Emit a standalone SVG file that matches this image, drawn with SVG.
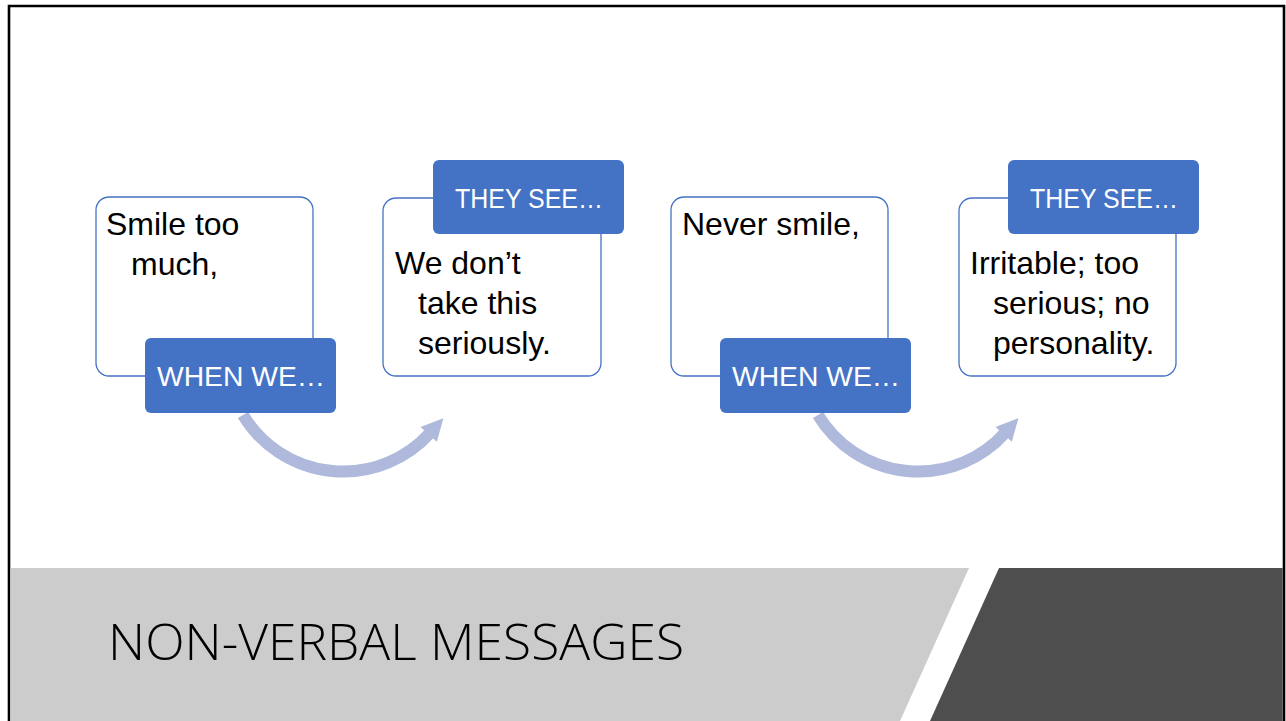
<svg xmlns="http://www.w3.org/2000/svg" width="1286" height="721" viewBox="0 0 1286 721">
<style>
.card{fill:#FFFFFF;stroke:#4472C4;stroke-width:1.3}
.tab{fill:#4472C4}
.tabt{font-family:"Liberation Sans",Arial,sans-serif;font-size:28px;fill:#FFFFFF;text-anchor:middle}
.body{font-family:"Liberation Sans",Arial,sans-serif;font-size:32px;fill:#000000}
.arc{fill:none;stroke:#AEB9DC;stroke-width:12}
.title{font-family:"Open Sans","Liberation Sans",sans-serif;font-weight:300;font-size:50px;fill:#000000}
</style>
<defs>
<marker id="ah" markerUnits="userSpaceOnUse" markerWidth="30" markerHeight="30" refX="2" refY="11" orient="auto" viewBox="0 0 30 22">
<path d="M0 0 L22 11 L0 22 Z" fill="#AEB9DC"/>
</marker>
</defs>
<rect x="0" y="0" width="1286" height="721" fill="#FFFFFF"/>
<g id="background">
<path d="M9 722 V6 H1284 V722" fill="none" stroke="#000000" stroke-width="2.6"/>
<polygon points="10.5,568 969,568 900,721 10.5,721" fill="#CCCCCC"/>
<polygon points="999,568 1282.7,568 1282.7,721 930,721" fill="#4E4E4E"/>
<text class="title" x="108" y="660" textLength="576" lengthAdjust="spacingAndGlyphs">NON-VERBAL MESSAGES</text>
</g>
<g id="connectors">
<path class="arc" d="M243 415 A117 117 0 0 0 430 433" marker-end="url(#ah)"/>
<path class="arc" d="M818 415 A117 117 0 0 0 1005 433" marker-end="url(#ah)"/>
</g>
<g id="node-smile-too-much">
<rect class="card" x="96" y="197" width="217" height="179" rx="13"/>
<text class="body" x="106" y="235">Smile too</text>
<text class="body" x="131" y="275">much,</text>
</g>
<g id="node-when-we-1">
<rect class="tab" x="145" y="338" width="191" height="75" rx="6"/>
<text class="tabt" x="241" y="386" textLength="168" lengthAdjust="spacingAndGlyphs">WHEN WE…</text>
</g>
<g id="node-dont-take-seriously">
<rect class="card" x="383" y="198" width="218" height="178" rx="13"/>
<text class="body" x="395" y="274">We don’t</text>
<text class="body" x="418" y="314">take this</text>
<text class="body" x="418" y="354">seriously.</text>
</g>
<g id="node-they-see-1">
<rect class="tab" x="433" y="160" width="191" height="74" rx="6"/>
<text class="tabt" x="529" y="208" textLength="148" lengthAdjust="spacingAndGlyphs">THEY SEE…</text>
</g>
<g id="node-never-smile">
<rect class="card" x="671" y="197" width="217" height="179" rx="13"/>
<text class="body" x="682" y="235">Never smile,</text>
</g>
<g id="node-when-we-2">
<rect class="tab" x="720" y="338" width="191" height="75" rx="6"/>
<text class="tabt" x="816" y="386" textLength="168" lengthAdjust="spacingAndGlyphs">WHEN WE…</text>
</g>
<g id="node-irritable">
<rect class="card" x="959" y="198" width="217" height="178" rx="13"/>
<text class="body" x="970" y="274">Irritable; too</text>
<text class="body" x="993" y="314">serious; no</text>
<text class="body" x="993" y="354">personality.</text>
</g>
<g id="node-they-see-2">
<rect class="tab" x="1008" y="160" width="191" height="74" rx="6"/>
<text class="tabt" x="1104" y="208" textLength="148" lengthAdjust="spacingAndGlyphs">THEY SEE…</text>
</g>
</svg>
